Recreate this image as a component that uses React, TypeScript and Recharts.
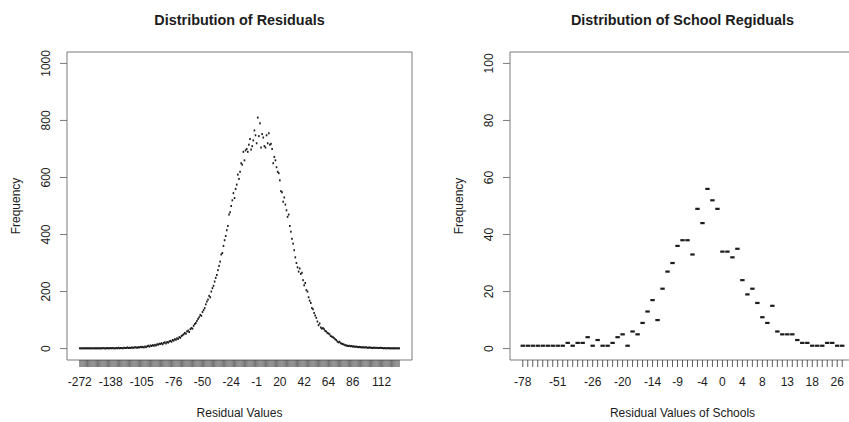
import { ComposedChart, Line, XAxis, YAxis, ReferenceArea } from "recharts";

// residuals: one entry per distinct (rounded) residual value
const residualValues = [
  -272, -241, -226, -214, -204, -196, -189, -183, -178, -174, -170, -167, -164, -161, -159,
  -157, -155, -153, -151, -149, -148, -147, -145, -144, -143, -142, -141, -140, -138,
  -137, -136, -135, -133, -132, -131, -130, -129, -127, -126, -125, -124, -123, -122, -120,
  -119, -118, -117, -116, -115, -113, -112, -111, -110, -109, -108, -106, -105,
  -104, -103, -102, -101, -100, -99, -98, -97, -96, -95, -94, -93, -92, -91, -90, -89, -88,
  -87, -86, -85, -84, -83, -82, -81, -80, -79, -78, -77, -76, -75, -74, -73, -72, -71, -70,
  -69, -68, -67, -66, -65, -64, -63, -62, -61, -60, -59, -58, -57, -56, -55, -54, -53, -52,
  -51, -50, -49, -48, -47, -46, -45, -44, -43, -42, -41, -40, -39, -38, -37, -36, -35, -34,
  -33, -32, -31, -30, -29, -28, -27, -26, -25, -24, -23, -22, -21, -20, -19, -18, -17, -16,
  -15, -14, -13, -12, -11, -10, -9, -8, -7, -6, -5, -4, -3, -2, -1,
  0, 1, 2, 3, 4, 5, 6, 7, 8, 9, 10, 11, 12, 13, 14, 15, 16, 17, 18, 19, 20, 21, 22, 23, 24,
  25, 26, 27, 28, 29, 30, 31, 32, 33, 34, 35, 36, 37, 38, 39, 40, 41, 42, 43, 44, 45, 46, 47,
  48, 49, 50, 51, 52, 53, 54, 55, 56, 57, 58, 59, 60, 61, 62, 63, 64, 65, 66, 67, 68, 69, 70,
  71, 72, 73, 74, 75, 76, 77, 78, 79, 80, 81, 82, 83, 84, 85, 86, 87, 88, 89, 90, 91, 92, 93,
  94, 95, 96, 97, 98, 99, 100, 101, 102, 103, 104, 105, 106, 107, 108, 109, 110, 111, 112,
  114, 115, 116, 118, 119, 121, 122, 124, 126, 128, 131, 133, 136, 140, 147, 158,
];

const residualCounts = [
  1, 1, 1, 1, 1, 1, 1, 1, 1, 1, 1, 1, 1, 1, 1, 1, 1, 1, 1, 1, 1, 2, 1, 1, 1, 2, 1, 1, 2,
  1, 2, 1, 1, 2, 1, 3, 1, 2, 2, 1, 3, 2, 2, 4, 2, 3, 2, 4, 3, 3, 5, 4, 3, 5, 4, 6, 5,
  6, 4, 7, 5,
  8, 10, 7, 11, 9, 12, 10, 13, 11, 15,
  14, 17, 16, 19, 15, 20, 22, 18, 23, 21, 25, 27,
  24, 30, 28, 33, 31, 36, 34, 40, 38, 44, 47, 50,
  55, 52, 60, 63, 58, 68, 72, 70, 80, 86, 90, 97,
  104, 110, 118, 115, 128, 135, 142, 155, 165,
  172, 185, 180, 200, 212, 220, 235, 248, 258,
  275, 290, 305, 330, 335, 360, 380, 395, 415,
  430, 470, 478, 500, 520, 545, 528, 560, 575,
  610, 595, 620, 650, 645, 690, 660, 695, 700,
  690, 715, 735, 698, 710, 730, 765, 748, 720,
  810, 745, 790, 705, 752, 740, 710, 705, 748, 720,
  755, 715, 718, 700, 650, 672, 660, 636, 620, 615,
  590, 552, 548, 515, 530, 505, 485, 462, 470, 430,
  410, 385, 368, 345, 320, 300, 285, 270, 281, 262,
  266, 240, 222, 230, 205, 200, 180, 168, 160, 142,
  138, 125, 116, 108, 95, 82, 88, 74, 70, 72,
  68, 62, 60, 55, 53, 50, 44, 42, 40, 37,
  33, 30, 25, 22, 24, 19, 17, 16, 14, 12,
  11, 10, 9, 10, 8, 9, 7, 8, 6, 7,
  6, 5, 6, 5, 4, 5, 4, 4, 5, 3,
  3, 4, 3, 3, 2, 3, 3, 2, 3, 2, 2, 3, 2,
  2, 1, 2, 1, 1, 2, 1, 1, 1, 1, 1, 1, 1, 1, 1, 1,
];

const residualTickLabels = [-272, -138, -105, -76, -50, -24, -1, 20, 42, 64, 86, 112];
const residualYTicks = [0, 200, 400, 600, 800, 1000];

// school residuals
const schoolValues = [
  -78, -74, -69, -65, -61, -58, -54, -51, -46, -42, -38, -34, -31, -29,
  -26, -25, -24, -23, -22, -21, -20, -19, -18, -17, -16, -15, -14, -13, -12, -11, -10,
  -9, -8, -7, -6, -5, -4, -3, -2, -1, 0, 1, 2, 3, 4, 5, 6, 7, 8, 9, 10, 11, 12, 13,
  14, 15, 16, 17, 18, 19, 21, 23, 24, 26, 29,
];

const schoolCounts = [
  1, 1, 1, 1, 1, 1, 1, 1, 1, 2, 1, 2, 2, 4,
  1, 3, 1, 1, 2, 4, 5, 1, 6, 5, 9, 13, 17, 10, 21, 27, 30,
  36, 38, 38, 33, 49, 44, 56, 52, 49, 34, 34, 32, 35, 24, 19, 21, 16, 11, 9, 15, 6, 5,
  5, 5, 3, 2, 2, 1, 1, 1, 2, 2, 1, 1,
];

const schoolTickLabels = [-78, -51, -26, -20, -14, -9, -4, 0, 4, 8, 13, 18, 26];
const schoolYTicks = [0, 20, 40, 60, 80, 100];

const FONT = '"Liberation Sans", Arial, sans-serif';
const INK = "#1c1c1c";
const AXIS = "#7a7a7a";

const W = 430;
const H = 422;
const M = { top: 52, right: 18, bottom: 62, left: 67 };

type PanelProps = {
  left: number;
  values: number[];
  counts: number[];
  tickLabels: number[];
  yTicks: number[];
  yMax: number;
  dashW: number;
  dashH: number;
  combWidth: number;
  title: string;
  xTitle: string;
};

function Panel({ left, values, counts, tickLabels, yTicks, yMax, dashW, dashH, combWidth, title, xTitle }: PanelProps) {
  const n = values.length;
  const pad = (n - 1) * 0.04;
  const xLo = -pad;
  const xHi = n - 1 + pad;
  const yLo = -yMax * 0.04;
  const yHi = yMax * 1.04;
  const data = values.map((v, i) => ({ idx: i, value: v, count: counts[i] }));
  const shown = new Set(tickLabels);
  const boxCx = M.left + (W - M.left - M.right) / 2;
  const boxCy = M.top + (H - M.top - M.bottom) / 2;
  const boxBottom = H - M.bottom;

  const XTick = (p: any) => {
    const v = values[p.payload.value];
    return (
      <g>
        <line x1={p.x} x2={p.x} y1={boxBottom} y2={boxBottom + 7} stroke="#333" strokeWidth={combWidth} />
        {shown.has(v) && (
          <text x={p.x} y={boxBottom + 26} textAnchor="middle" fontSize={12} fill={INK} fontFamily={FONT}>
            {v}
          </text>
        )}
      </g>
    );
  };

  const YTick = (p: any) => (
    <g>
      <line x1={M.left - 7} x2={M.left} y1={p.y} y2={p.y} stroke={AXIS} strokeWidth={1} />
      <text
        x={M.left - 17}
        y={p.y}
        transform={`rotate(-90 ${M.left - 17} ${p.y})`}
        textAnchor="middle"
        fontSize={12}
        fill={INK}
        fontFamily={FONT}
      >
        {p.payload.value}
      </text>
    </g>
  );

  return (
    <div style={{ position: "absolute", left, top: 0, width: W, height: H }}>
      <ComposedChart width={W} height={H} data={data} margin={{ top: M.top, right: M.right, bottom: 0, left: 0 }}>
        <XAxis
          type="number"
          dataKey="idx"
          domain={[xLo, xHi]}
          allowDataOverflow
          ticks={data.map((d) => d.idx)}
          interval={0}
          tick={XTick}
          tickLine={false}
          axisLine={false}
          height={M.bottom}
        />
        <YAxis
          type="number"
          domain={[yLo, yHi]}
          allowDataOverflow
          ticks={yTicks}
          interval={0}
          tick={YTick}
          tickLine={false}
          axisLine={false}
          width={M.left}
        />
        <ReferenceArea
          x1={xLo}
          x2={xHi}
          y1={yLo}
          y2={yHi}
          fill="none"
          stroke={AXIS}
          strokeWidth={1}
          ifOverflow="visible"
        />
        <Line
          dataKey="count"
          stroke="none"
          isAnimationActive={false}
          activeDot={false}
          dot={(p: any) => (
            <rect
              key={`d${p.index}`}
              x={p.cx - dashW / 2}
              y={p.cy - dashH / 2}
              width={dashW}
              height={dashH}
              fill={INK}
            />
          )}
        />
      </ComposedChart>
      <div
        style={{
          position: "absolute",
          left: boxCx - 200,
          top: 12,
          width: 400,
          textAlign: "center",
          fontWeight: "bold",
          fontSize: 14.4,
          lineHeight: "16px",
          color: INK,
        }}
      >
        {title}
      </div>
      <div
        style={{
          position: "absolute",
          left: boxCx - 200,
          top: 405,
          width: 400,
          textAlign: "center",
          fontSize: 12,
          lineHeight: "16px",
          color: INK,
        }}
      >
        {xTitle}
      </div>
      <div
        style={{
          position: "absolute",
          left: 16 - 60,
          top: boxCy - 8,
          width: 120,
          height: 16,
          textAlign: "center",
          fontSize: 12,
          lineHeight: "16px",
          color: INK,
          transform: "rotate(-90deg)",
        }}
      >
        Frequency
      </div>
    </div>
  );
}

export default function App() {
  return (
    <div
      style={{
        position: "fixed",
        left: 0,
        top: 0,
        width: 849,
        height: 422,
        overflow: "hidden",
        background: "#fff",
        fontFamily: FONT,
      }}
    >
      <Panel
        left={0}
        values={residualValues}
        counts={residualCounts}
        tickLabels={residualTickLabels}
        yTicks={residualYTicks}
        yMax={1000}
        dashW={1.6}
        dashH={2}
        combWidth={0.7}
        title="Distribution of Residuals"
        xTitle="Residual Values"
      />
      <Panel
        left={443}
        values={schoolValues}
        counts={schoolCounts}
        tickLabels={schoolTickLabels}
        yTicks={schoolYTicks}
        yMax={100}
        dashW={4.4}
        dashH={2.2}
        combWidth={0.8}
        title="Distribution of School Regiduals"
        xTitle="Residual Values of Schools"
      />
    </div>
  );
}
